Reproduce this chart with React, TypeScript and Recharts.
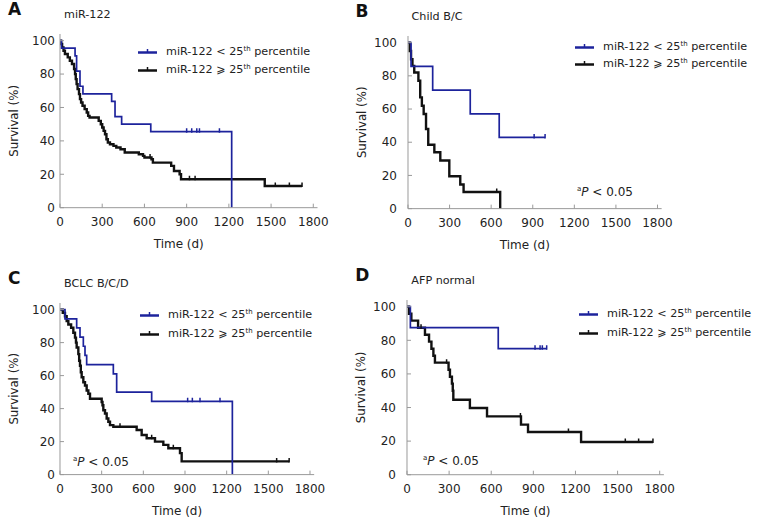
import React from 'react';
import { LineChart, Line, XAxis, YAxis } from 'recharts';

// [time (d), survival (%), 1 = censored]
type Pt = [number, number, number?];

const timeTicks = [0, 300, 600, 900, 1200, 1500, 1800];
const survivalTicks = [0, 20, 40, 60, 80, 100];

const aLow: Pt[] = [
  [0, 100], [10, 95.5], [107, 90.9], [118, 81.8], [142, 72.7], [163, 68.2], [367, 63.6], [391, 54.5],
  [438, 50], [645, 45.5], [900, 45.5, 1], [936, 45.5, 1], [972, 45.5, 1], [991, 45.5, 1], [1133, 45.5, 1], [1220, 0],
];
const aHigh: Pt[] = [
  [0, 100], [8, 98], [15, 96], [25, 94], [35, 92], [55, 90], [70, 88], [85, 86], [100, 83], [107, 80],
  [112, 77], [118, 74], [125, 71], [135, 68], [142, 65], [150, 63], [160, 61], [175, 59], [190, 57], [200, 55],
  [210, 54], [275, 52], [290, 50], [300, 48], [310, 46], [320, 44], [330, 41], [340, 39], [355, 38], [380, 37],
  [400, 36], [430, 35], [460, 33], [560, 32], [590, 31], [600, 30], [640, 30, 1], [650, 29], [660, 27],
  [790, 25], [810, 22], [850, 20], [860, 17], [920, 17, 1], [960, 17, 1], [1455, 13], [1530, 13, 1],
  [1630, 13, 1], [1720, 13, 1],
];

const bLow: Pt[] = [
  [0, 100], [22, 85.7], [178, 71.4], [449, 57.1], [658, 42.9], [910, 42.9, 1], [989, 42.9, 1],
];
const bHigh: Pt[] = [
  [0, 100], [12, 95], [22, 90], [32, 86], [45, 82], [75, 77], [88, 67], [100, 62], [113, 57], [130, 48],
  [146, 38.5], [190, 34], [233, 29], [298, 19.5], [377, 14.5], [401, 10], [640, 10, 1], [665, 0],
];

const cLow: Pt[] = [
  [0, 100], [36, 94.4], [120, 88.9], [144, 83.3], [168, 77.8], [180, 72.2], [192, 66.7], [384, 61.1],
  [408, 50], [660, 44.4], [919, 44.4, 1], [953, 44.4, 1], [1008, 44.4, 1], [1152, 44.4, 1], [1241, 0],
];
const cHigh: Pt[] = [
  [0, 100], [20, 98], [36, 96], [48, 93], [60, 91], [80, 89], [96, 86], [108, 83], [115, 80], [120, 77],
  [132, 73], [138, 69], [144, 66], [150, 62], [156, 59], [168, 56], [180, 54], [192, 51], [204, 49], [216, 46],
  [300, 44], [306, 42], [312, 39], [324, 37], [336, 34], [348, 32], [360, 30], [384, 29], [432, 29, 1],
  [552, 27], [588, 24], [624, 22], [660, 22, 1], [684, 20], [744, 18], [780, 16], [816, 16, 1], [864, 13],
  [876, 8], [1560, 8, 1], [1650, 8, 1],
];

const dLow: Pt[] = [
  [0, 100], [24, 87.5], [650, 75], [912, 75, 1], [948, 75, 1], [964, 75, 1], [995, 75, 1],
];
const dHigh: Pt[] = [
  [0, 100], [14, 95.8], [31, 91.7], [79, 87.5], [100, 87.5, 1], [128, 83.3], [157, 79.2], [174, 75],
  [188, 70.8], [199, 66.7], [282, 66.7, 1], [296, 62.5], [306, 58.3], [320, 54.2], [326, 50], [330, 44.6],
  [448, 39.7], [570, 34.7], [808, 34.7, 1], [812, 29.8], [862, 25.4], [1150, 25.4, 1], [1240, 19.5],
  [1555, 19.5, 1], [1650, 19.5, 1], [1752, 19.5, 1],
];

const BLUE = '#1d239c';
const BLACK = '#111';
const AXIS = '#9a9a9a';
const FONT = '"DejaVu Sans", Verdana, sans-serif';

const rows = (pts: Pt[]) => pts.map(([t, s, c]) => ({ t, s, c: c === 1 }));

const censorDot = (color: string) => (props: any) => {
  const { cx, cy, payload, index } = props;
  if (!payload || !payload.c) return <g key={`n-${index}`} />;
  return <line key={`c-${index}`} x1={cx} x2={cx} y1={cy - 3.5} y2={cy + 1} stroke={color} strokeWidth={1.5} />;
};

const panels = [
  { letter: 'A', title: 'miR-122', low: aLow, high: aHigh, x0: 60, x1800: 313.3, y0: 208, y100: 41,
    yGap: 5, legend: [138, 52, 18.3], note: null },
  { letter: 'B', title: 'Child B/C', low: bLow, high: bHigh, x0: 407.5, x1800: 657, y0: 209, y100: 43,
    yGap: 11, legend: [575, 47, 16.7], note: [577, 193] },
  { letter: 'C', title: 'BCLC B/C/D', low: cLow, high: cHigh, x0: 60, x1800: 310, y0: 475, y100: 310,
    yGap: 5, legend: [140, 315, 19], note: [73, 463] },
  { letter: 'D', title: 'AFP normal', low: dLow, high: dHigh, x0: 407.3, x1800: 660, y0: 475, y100: 307,
    yGap: 11, legend: [579, 314, 18.5], note: [423, 462] },
];

const textStyle: React.CSSProperties = {
  position: 'absolute', fontFamily: FONT, color: '#222', whiteSpace: 'nowrap', lineHeight: 1,
};

function LegendRow({ x, y, color, sign }: { x: number; y: number; color: string; sign: string }) {
  return (
    <div style={{ ...textStyle, left: x, top: y - 7, fontSize: 11.2 }}>
      <svg width={20} height={10} style={{ position: 'absolute', left: 0, top: 2 }}>
        <line x1={0} x2={19} y1={5.5} y2={5.5} stroke={color} strokeWidth={2.5} />
        <line x1={9.5} x2={9.5} y1={2} y2={5.5} stroke={color} strokeWidth={1.5} />
      </svg>
      <span style={{ position: 'absolute', left: 28, top: 1 }}>
        miR-122 {sign} 25<sup style={{ fontSize: 7, verticalAlign: 4 }}>th</sup> percentile
      </span>
    </div>
  );
}

function Panel({ p }: { p: (typeof panels)[number] }) {
  const plotW = ((p.x1800 - p.x0) * 1830) / 1800;
  const plotH = (p.y0 - p.y100) * 1.04;
  const top = p.y0 - plotH;
  const mTop = 34;
  const mRight = 110;
  return (
    <>
      <div style={{ position: 'absolute', left: p.x0 - 60, top: top - mTop }}>
        <LineChart width={60 + plotW + mRight} height={mTop + plotH + 44} margin={{ top: mTop, right: mRight, bottom: 2, left: 0 }}>
          <XAxis
            type="number"
            dataKey="t"
            domain={[0, 1830]}
            ticks={timeTicks}
            allowDataOverflow
            height={42}
            stroke={AXIS}
            tickSize={-4}
            tickMargin={14}
            tick={{ fill: '#222', fontSize: 12, fontFamily: FONT }}
            label={{ value: 'Time (d)', position: 'insideBottom', offset: 2, dx: -10, fill: '#222', fontSize: 12, fontFamily: FONT }}
          />
          <YAxis
            type="number"
            domain={[0, 104]}
            ticks={survivalTicks}
            allowDataOverflow
            width={60}
            stroke={AXIS}
            tickSize={-4}
            tickMargin={4 + p.yGap}
            tick={{ fill: '#222', fontSize: 12, fontFamily: FONT }}
            label={{ value: 'Survival (%)', angle: -90, position: 'insideLeft', offset: 14, style: { textAnchor: 'middle' }, fill: '#222', fontSize: 11.8, fontFamily: FONT }}
          />
          <Line data={rows(p.high)} dataKey="s" type="stepAfter" stroke={BLACK} strokeWidth={2.4} dot={censorDot(BLACK)} activeDot={false} isAnimationActive={false} />
          <Line data={rows(p.low)} dataKey="s" type="stepAfter" stroke={BLUE} strokeWidth={1.7} dot={censorDot(BLUE)} activeDot={false} isAnimationActive={false} />
        </LineChart>
      </div>
      <div style={{ ...textStyle, left: p.x0 - 52, top: top - 33, fontSize: 17, fontWeight: 'bold', color: '#111' }}>{p.letter}</div>
      <div style={{ ...textStyle, left: p.x0 + 4, top: top - 25, fontSize: 11.2 }}>{p.title}</div>
      <LegendRow x={p.legend[0]} y={p.legend[1]} color={BLUE} sign="<" />
      <LegendRow x={p.legend[0]} y={p.legend[1] + p.legend[2]} color={BLACK} sign="⩾" />
      {p.note && (
        <div style={{ ...textStyle, left: p.note[0], top: p.note[1] - 7, fontSize: 12 }}>
          <sup style={{ fontSize: 7, verticalAlign: 5 }}>a</sup><i>P</i> &lt; 0.05
        </div>
      )}
    </>
  );
}

export default function App() {
  return (
    <div style={{ position: 'absolute', left: 0, top: 0, width: 761, height: 528, background: '#fff', overflow: 'hidden' }}>
      {panels.map((p) => (
        <Panel key={p.letter} p={p} />
      ))}
    </div>
  );
}
